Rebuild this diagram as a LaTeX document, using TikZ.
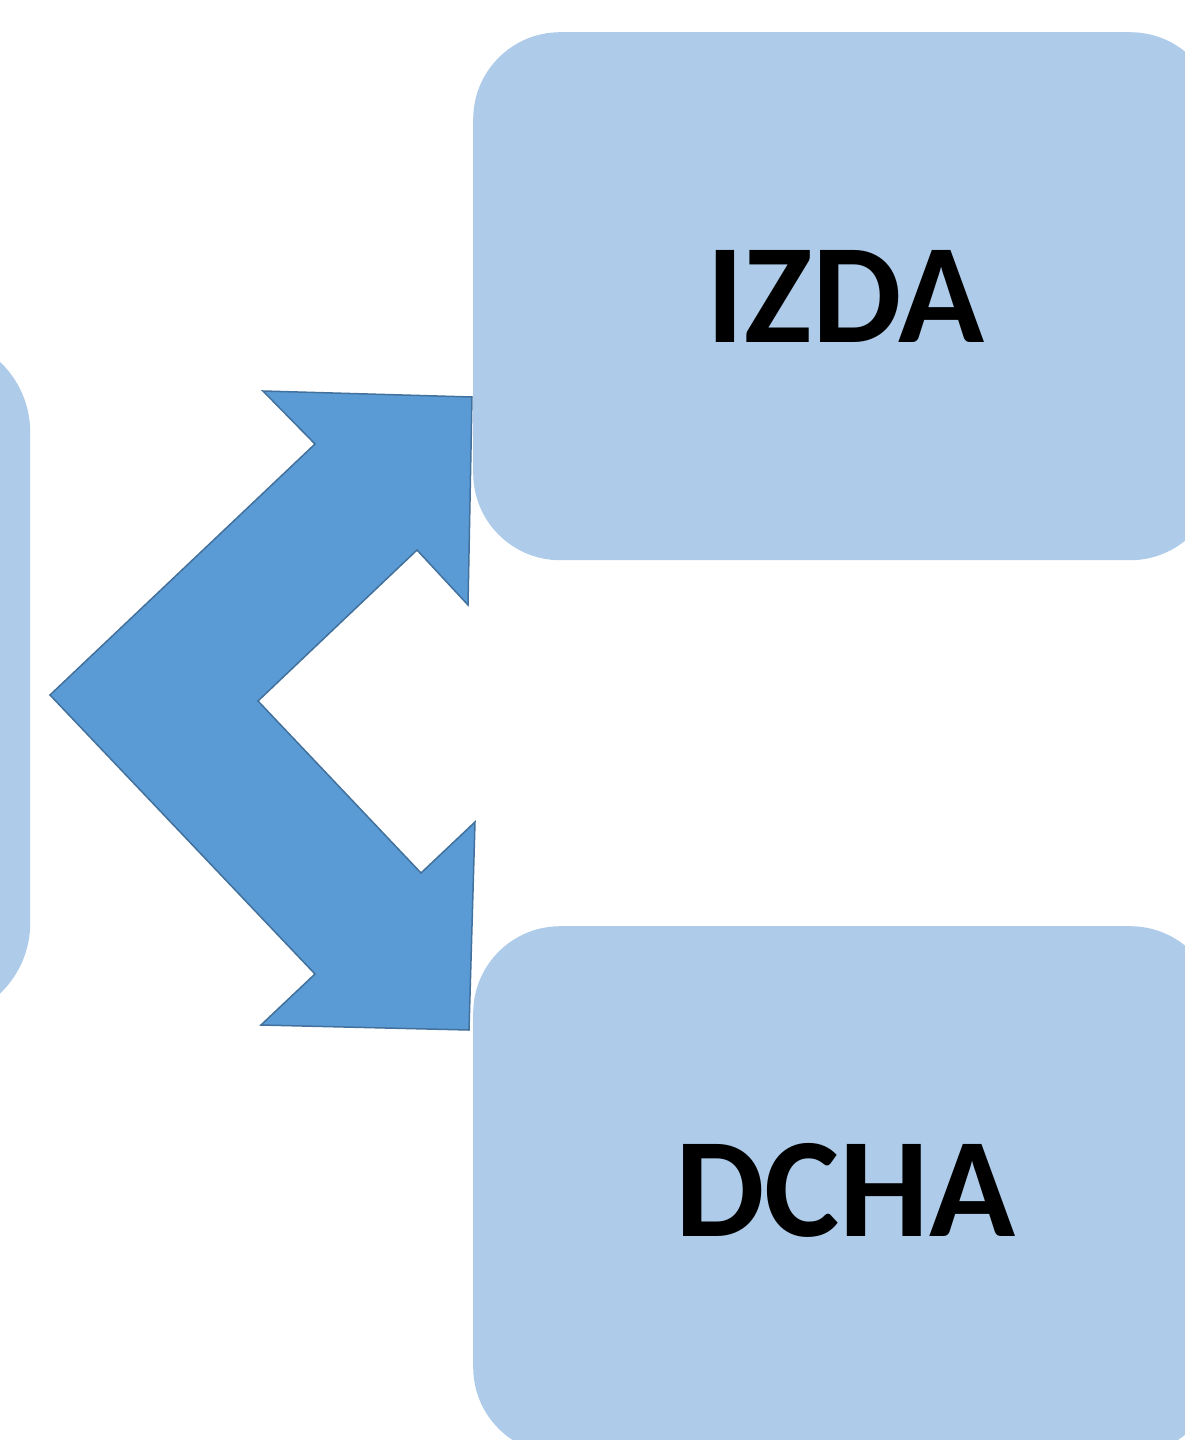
\documentclass[tikz,border=0pt]{standalone}
\usepackage{fontspec}
\setmainfont{Carlito}
\definecolor{boxfill}{RGB}{174,204,233}
\definecolor{arrfill}{RGB}{91,155,213}
\definecolor{arrline}{RGB}{65,113,156}
\tikzset{
  softbox/.style={rectangle, fill=boxfill, draw=none, rounded corners=87pt, inner sep=0pt,
    minimum width=744pt, minimum height=528pt, anchor=north west,
    font=\fontsize{142}{142}\selectfont\bfseries},
  bigarrow/.style={fill=arrfill, draw=arrline, line width=1.5pt, line join=miter}
}
\begin{document}
\begin{tikzpicture}[x=1pt,y=-1pt]
\clip (0,0) rectangle (1185,1440);
\fill[white] (0,0) rectangle (1185,1440);
\node[softbox, rounded corners=97pt, minimum width=730pt, minimum height=685pt] (src) at (-700,335) {};
\node[softbox] (izda) at (473,32) {IZDA};
\node[softbox] (dcha) at (473,926) {DCHA};
\draw[bigarrow] (263,391) -- (472,397) -- (468,605) -- (417,550) -- (258,701)
  -- (421,873) -- (475,822) -- (469,1030) -- (261,1025) -- (315,974)
  -- (50,695) -- (315,444) -- cycle;
\end{tikzpicture}
\end{document}
